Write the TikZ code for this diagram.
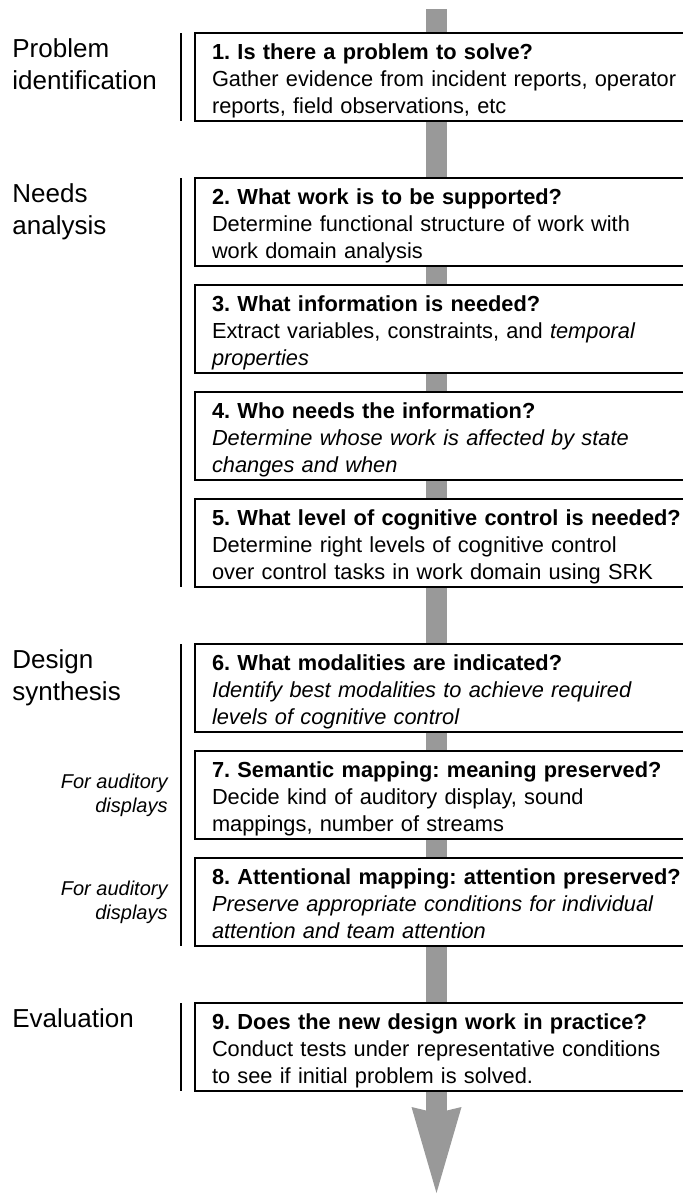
\documentclass[tikz,border=0pt]{standalone}
\usepackage{fontspec}
\setmainfont{Liberation Sans}
\usetikzlibrary{positioning,arrows.meta,backgrounds}
\definecolor{shaftgray}{gray}{0.6}
\frenchspacing

\begin{document}
\begin{tikzpicture}[
  node distance = 9.5pt,
  stage node/.style={
    draw,
    line width=1pt,
    fill=white,
    outer sep=0pt,
    inner xsep=8.5pt,
    inner ysep=0pt,
    text width=245pt,
    text height=13pt,
    text depth=31pt,
    align=left,
    font=\fontsize{10.9}{13.5}\selectfont,
  },
  phase label/.style={
    anchor=north west,
    inner sep=0pt,
    align=left,
    yshift=-2.7pt,
    font=\fontsize{13}{16}\selectfont,
  },
  aside label/.style={
    anchor=east,
    inner sep=0pt,
    align=right,
    font=\fontsize{10}{12}\selectfont\itshape,
  },
  phase bar/.style={
    draw,
    line width=0.7pt,
  },
  ]
  \useasboundingbox (0,0) rectangle (341.5pt,-597pt);
  \coordinate (label-x) at (6pt,0);
  \coordinate (aside-x) at (84pt,0);

  \node[stage node,anchor=north west] (s1) at (97.5pt,-16.5pt)
  {\textbf{1. Is there a problem to solve?}\\
    Gather evidence from incident reports, operator\\
    reports, field observations, etc};
  \node[stage node,below=28.5pt of s1] (s2)
  {\textbf{2. What work is to be supported?}\\
    Determine functional structure of work with\\
    work domain analysis};
  \node[stage node,below=of s2] (s3)
  {\textbf{3. What information is needed?}\\
    Extract variables, constraints, and \textit{temporal}\\
    \textit{properties}};
  \node[stage node,below=of s3] (s4)
  {\textbf{4. Who needs the information?}\\
    \textit{Determine whose work is affected by state}\\
    \textit{changes and when}};
  \node[stage node,below=of s4] (s5)
  {\textbf{5. What level of cognitive control is needed?}\\
    Determine right levels of cognitive control\\
    over control tasks in work domain using SRK};
  \node[stage node,below=28.5pt of s5] (s6)
  {\textbf{6. What modalities are indicated?}\\
    \textit{Identify best modalities to achieve required}\\
    \textit{levels of cognitive control}};
  \node[stage node,below=of s6] (s7)
  {\textbf{7. Semantic mapping: meaning preserved?}\\
    Decide kind of auditory display, sound\\
    mappings, number of streams};
  \node[stage node,below=of s7] (s8)
  {\textbf{8. Attentional mapping: attention preserved?}\\
    \textit{Preserve appropriate conditions for individual}\\
    \textit{attention and team attention}};
  \node[stage node,below=28.5pt of s8] (s9)
  {\textbf{9. Does the new design work in practice?}\\
    Conduct tests under representative conditions\\
    to see if initial problem is solved.};

  % phase names on the left
  \node[phase label] (p-problem) at (s1.north west -| label-x) {Problem\\identification};
  \node[phase label] (p-needs) at (s2.north west -| label-x) {Needs\\analysis};
  \node[phase label] (p-design) at (s6.north west -| label-x) {Design\\synthesis};
  \node[phase label] (p-eval) at (s9.north west -| label-x) {Evaluation};

  \node[aside label] (a7) at (s7.west -| aside-x) {For auditory\\displays};
  \node[aside label] (a8) at (s8.west -| aside-x) {For auditory\\displays};

  \path[phase bar]
  ([xshift=-7pt]s1.north west) -- ([xshift=-7pt]s1.south west)
  ([xshift=-7pt]s2.north west) -- ([xshift=-7pt]s5.south west)
  ([xshift=-7pt]s6.north west) -- ([xshift=-7pt]s8.south west)
  ([xshift=-7pt]s9.north west) -- ([xshift=-7pt]s9.south west);

  % flow arrow behind the boxes
  \coordinate (shaft-top) at (218.25pt,-4.5pt);
  \coordinate (shaft-tip) at (218.25pt,-596.5pt);
  \begin{scope}[on background layer]
    \draw[shaftgray,line width=10.5pt,
    -{Stealth[length=43pt,width=25pt,inset=3pt,line width=0pt]}]
    (shaft-top) -- (shaft-tip);
  \end{scope}
\end{tikzpicture}
\end{document}
